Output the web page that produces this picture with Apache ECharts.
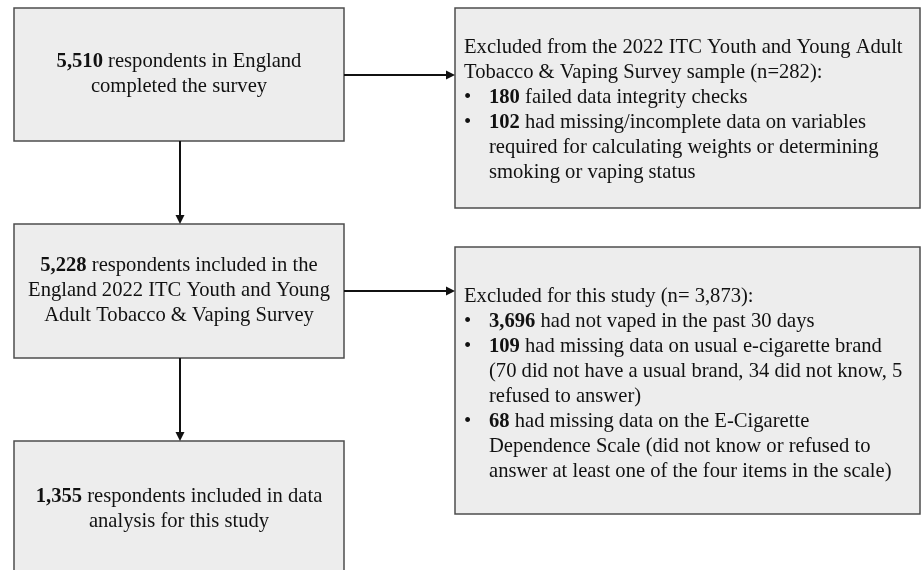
<!DOCTYPE html>
<html>
<head>
<meta charset="utf-8">
<script src="https://cdn.jsdelivr.net/npm/echarts@6/dist/echarts.min.js"></script>
<style>
  html, body { margin: 0; padding: 0; background: #fff; }
  #main { width: 922px; height: 570px; }
</style>
</head>
<body>
<div id="main"></div>
<script>
// flow counts (bold numbers) and the text that follows them
var mainCounts = ['5,510', '5,228', '1,355'];
var mainLines = [
    [' respondents in England', 'completed the survey'],
    [' respondents included in the', 'England 2022 ITC Youth and Young', 'Adult Tobacco & Vaping Survey'],
    [' respondents included in data', 'analysis for this study']
];

// exclusion boxes
var exclHeaders = [
    ['Excluded from the 2022 ITC Youth and Young Adult', 'Tobacco & Vaping Survey sample (n=282):'],
    ['Excluded for this study (n= 3,873):']
];
var exclCounts = [
    ['180', '102'],
    ['3,696', '109', '68']
];
var exclReasons = [
    [
        [' failed data integrity checks'],
        [' had missing/incomplete data on variables', 'required for calculating weights or determining', 'smoking or vaping status']
    ],
    [
        [' had not vaped in the past 30 days'],
        [' had missing data on usual e-cigarette brand', '(70 did not have a usual brand, 34 did not know, 5', 'refused to answer)'],
        [' had missing data on the E-Cigarette', 'Dependence Scale (did not know or refused to', 'answer at least one of the four items in the scale)']
    ]
];

var FONT = '"Liberation Serif", "Times New Roman", serif';
var FS = 20.6;
var LH = 25;
var TXT = '#111';

// box geometry
var leftBoxes = [
    { x: 14, y: 8, w: 330, h: 133 },
    { x: 14, y: 224, w: 330, h: 134 },
    { x: 14, y: 441, w: 330, h: 140 }
];
var rightBoxes = [
    { x: 455, y: 8, w: 465, h: 200 },
    { x: 455, y: 247, w: 465, h: 267 }
];

var elements = [];

function box(b) {
    elements.push({
        type: 'rect',
        shape: { x: b.x, y: b.y, width: b.w, height: b.h },
        style: { fill: '#ededed', stroke: '#4d4d4d', lineWidth: 1.5 }
    });
}

function line(x, y, text, align) {
    elements.push({
        type: 'text',
        x: x, y: y,
        style: {
            text: text,
            font: FS + 'px ' + FONT,
            fill: TXT,
            align: align || 'left',
            verticalAlign: 'middle',
            rich: { b: { fontWeight: 'bold', fontSize: FS, fontFamily: FONT, fill: TXT } }
        }
    });
}

function arrowH(x1, x2, y) {
    elements.push({ type: 'line', shape: { x1: x1, y1: y, x2: x2 - 7, y2: y }, style: { stroke: '#111', lineWidth: 2 } });
    elements.push({ type: 'polygon', shape: { points: [[x2, y], [x2 - 9, y - 4.5], [x2 - 9, y + 4.5]] }, style: { fill: '#111' } });
}

function arrowV(x, y1, y2) {
    elements.push({ type: 'line', shape: { x1: x, y1: y1, x2: x, y2: y2 - 7 }, style: { stroke: '#111', lineWidth: 2 } });
    elements.push({ type: 'polygon', shape: { points: [[x, y2], [x - 4.5, y2 - 9], [x + 4.5, y2 - 9]] }, style: { fill: '#111' } });
}

// left column
leftBoxes.forEach(function (b, i) {
    box(b);
    var lines = mainLines[i];
    var cx = b.x + b.w / 2;
    var cy = b.y + b.h / 2;
    if (i === 2) cy = 509;
    var top = cy - (lines.length - 1) * LH / 2;
    lines.forEach(function (t, k) {
        line(cx, top + k * LH, k === 0 ? '{b|' + mainCounts[i] + '}' + t : t, 'center');
    });
});

// right column
rightBoxes.forEach(function (b, i) {
    box(b);
    var rows = [];
    exclHeaders[i].forEach(function (t) { rows.push({ bullet: false, indent: false, text: t }); });
    exclReasons[i].forEach(function (r, j) {
        r.forEach(function (t, k) {
            rows.push({ bullet: k === 0, indent: true, text: k === 0 ? '{b|' + exclCounts[i][j] + '}' + t : t });
        });
    });
    var cy = b.y + b.h / 2 + (i === 1 ? 4 : 2);
    var top = cy - (rows.length - 1) * LH / 2;
    rows.forEach(function (r, k) {
        var y = top + k * LH;
        if (r.bullet) line(b.x + 9, y, '\u2022');
        line(r.indent ? b.x + 34 : b.x + 9, y, r.text);
    });
});

// arrows
arrowH(344, 455, 75);
arrowH(344, 455, 291);
arrowV(180, 141, 224);
arrowV(180, 358, 441);

var chart = echarts.init(document.getElementById('main'), null, { renderer: 'canvas' });
chart.setOption({
    backgroundColor: '#fff',
    animation: false,
    graphic: { elements: elements }
});
</script>
</body>
</html>
